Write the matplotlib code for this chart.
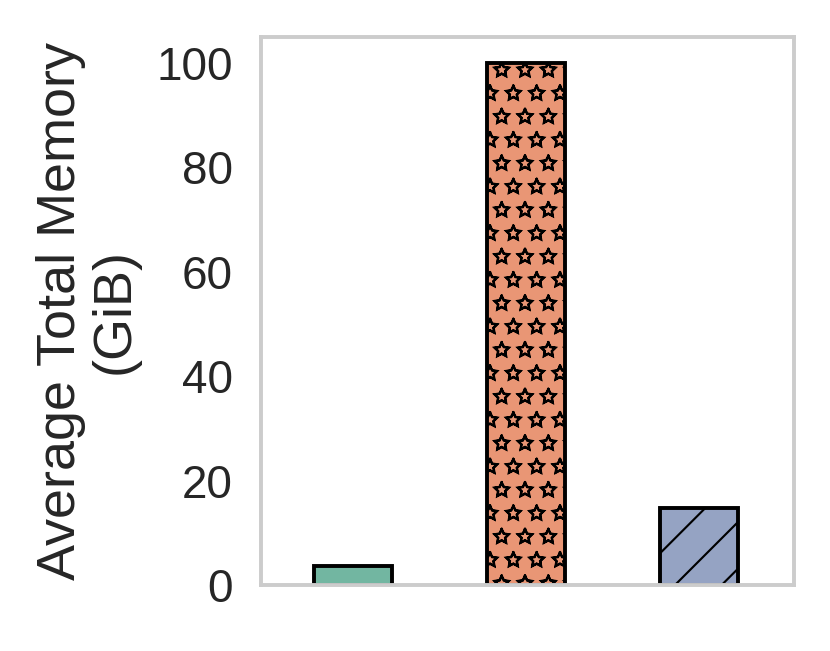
import matplotlib
matplotlib.use("Agg")
import matplotlib.pyplot as plt
import matplotlib.hatch as mhatch
import seaborn as sns

# values
systems = ["A", "B", "C"]
memory_gib = [3.65, 100.0, 14.7]
hatches = ["", "**", "//"]
y_ticks = [0, 20, 40, 60, 80, 100]

sns.set_style("whitegrid")
plt.rcParams["font.family"] = ["Liberation Sans", "DejaVu Sans"]
plt.rcParams["hatch.linewidth"] = 0.55

# reference shows hollow stars, not filled ones
mhatch.Stars.filled = False

colors = sns.color_palette("Set2", len(systems), desat=0.75)

dpi = 280
fig = plt.figure(figsize=(830 / dpi, 651 / dpi), dpi=dpi)
ax = fig.add_axes([0.3145, 0.1014, 0.6421, 0.8418])

bars = ax.bar(range(len(systems)), memory_gib, width=0.45,
              color=colors, edgecolor="black", linewidth=1.0)
for bar, h in zip(bars, hatches):
    bar.set_hatch(h)

ax.grid(False)
ax.set_xlim(-0.53, 2.55)
ax.set_ylim(0, 105)
ax.set_xticks([])
ax.set_yticks(y_ticks)
ax.tick_params(axis="y", length=0, pad=7.2, labelsize=11.8, labelcolor="#262626")
for s in ax.spines.values():
    s.set_color("#cccccc")
    s.set_linewidth(1.0)

ax.set_ylabel("Average Total Memory\n(GiB)", fontsize=13.9, color="#262626",
              linespacing=1.1, labelpad=4.3)

fig.savefig("out.png", dpi=dpi)
